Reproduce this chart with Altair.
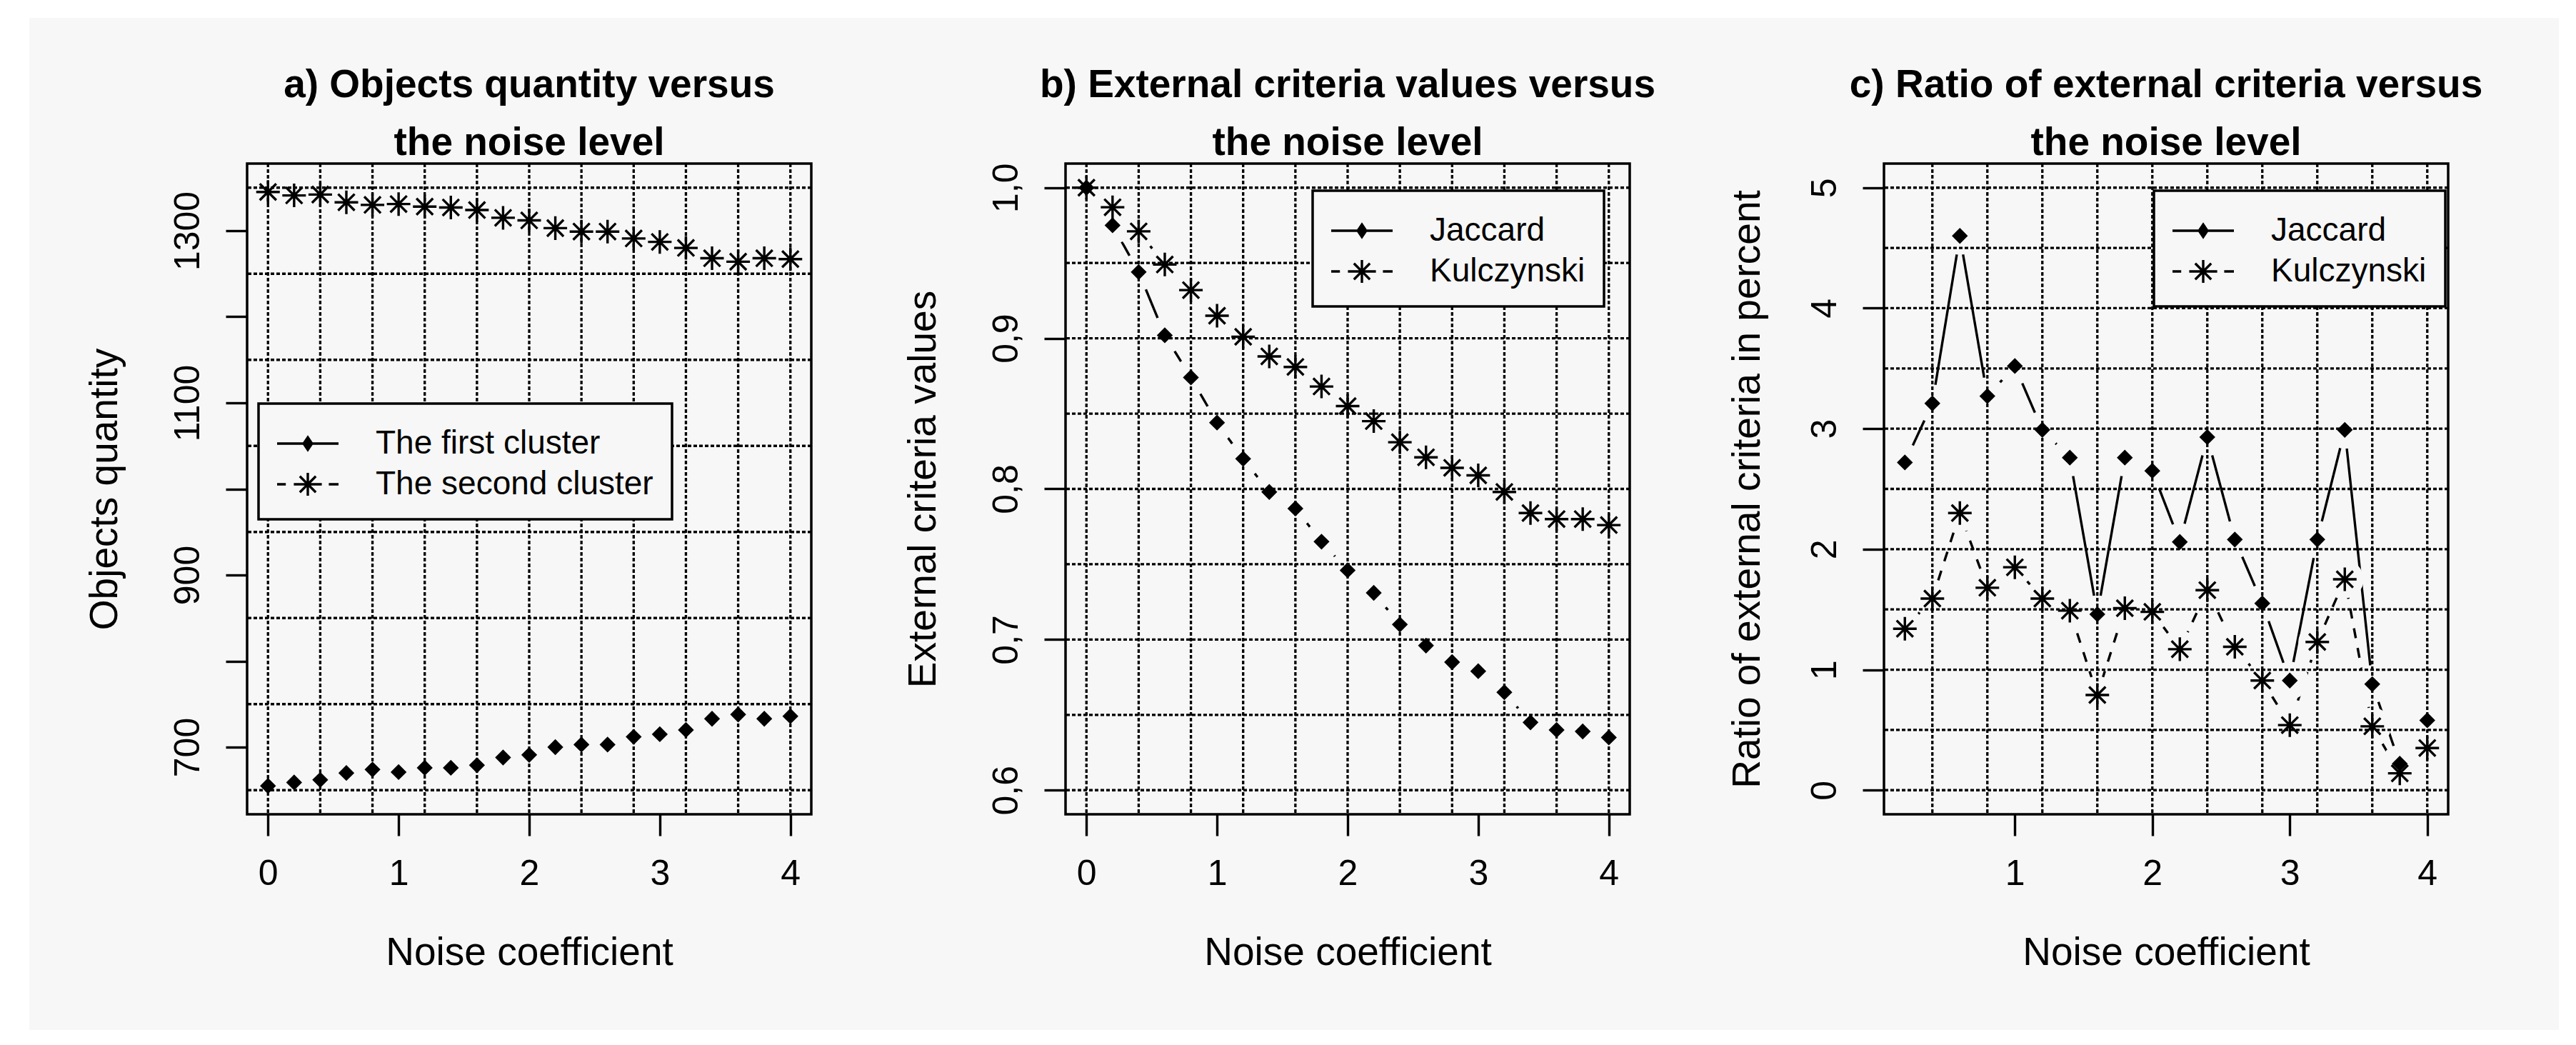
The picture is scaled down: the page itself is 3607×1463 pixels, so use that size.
import altair as alt
import pandas as pd

# ---------------- data ----------------
noise = [0.0, 0.2, 0.4, 0.6, 0.8, 1.0, 1.2, 1.4, 1.6, 1.8, 2.0,
         2.2, 2.4, 2.6, 2.8, 3.0, 3.2, 3.4, 3.6, 3.8, 4.0]

first_cluster = [655, 659, 662, 670, 674, 671, 676, 676, 679, 688, 691,
                 700, 703, 703, 712, 715, 720, 733, 738, 733, 736]
second_cluster = [1345, 1341, 1342, 1333, 1330, 1331, 1328, 1327, 1324, 1315, 1312,
                  1303, 1299, 1299, 1291, 1287, 1280, 1268, 1264, 1268, 1267]

jaccard_values = [1.000, 0.975, 0.944, 0.902, 0.874, 0.844, 0.820, 0.798, 0.787, 0.765, 0.746,
                  0.731, 0.710, 0.696, 0.685, 0.679, 0.665, 0.645, 0.640, 0.639, 0.635]
kulczynski_values = [1.000, 0.987, 0.971, 0.949, 0.932, 0.915, 0.901, 0.888, 0.881, 0.868, 0.855,
                     0.845, 0.831, 0.821, 0.814, 0.809, 0.798, 0.784, 0.780, 0.780, 0.776]

ratio_noise = [0.2, 0.4, 0.6, 0.8, 1.0, 1.2, 1.4, 1.6, 1.8, 2.0,
               2.2, 2.4, 2.6, 2.8, 3.0, 3.2, 3.4, 3.6, 3.8, 4.0]
jaccard_ratio = [2.72, 3.21, 4.60, 3.27, 3.52, 2.99, 2.76, 1.46, 2.76, 2.65,
                 2.06, 2.93, 2.08, 1.55, 0.91, 2.08, 2.99, 0.88, 0.22, 0.58]
kulczynski_ratio = [1.34, 1.59, 2.30, 1.68, 1.85, 1.59, 1.49, 0.79, 1.51, 1.48,
                    1.17, 1.66, 1.19, 0.91, 0.54, 1.23, 1.75, 0.53, 0.14, 0.35]

# tick and grid values
x_ticks_ab = [0, 1, 2, 3, 4]
x_ticks_c = [1, 2, 3, 4]
x_grid_ab = [0.0, 0.4, 0.8, 1.2, 1.6, 2.0, 2.4, 2.8, 3.2, 3.6, 4.0]
x_grid_c = [0.4, 0.8, 1.2, 1.6, 2.0, 2.4, 2.8, 3.2, 3.6, 4.0]
y_ticks_a = [700, 800, 900, 1000, 1100, 1200, 1300]
y_grid_a = [650, 750, 850, 950, 1050, 1150, 1250, 1350]
y_ticks_b = [0.6, 0.7, 0.8, 0.9, 1.0]
y_grid_b = [0.60, 0.65, 0.70, 0.75, 0.80, 0.85, 0.90, 0.95, 1.00]
y_ticks_c = [0, 1, 2, 3, 4, 5]
y_grid_c = [0, 0.5, 1, 1.5, 2, 2.5, 3, 3.5, 4, 4.5, 5]

# ---------------- styling ----------------
FONT = "Liberation Sans"
BG = "#f7f7f7"
W, H = 790, 911
LW = 3.4

ASTER = "M-1,0L1,0M0,-1L0,1M-0.7,-0.7L0.7,0.7M-0.7,0.7L0.7,-0.7"
# legend glyphs (line sample + marker), drawn at 28 px per unit
LEG_SOLID = ("M-1.536,0L1.536,0"
             "M0,-0.31L0.21,0L0,0.31L-0.21,0Z"
             "M0,-0.16L0.1,0L0,0.16L-0.1,0ZM0,-0.3L0,0.3")
LEG_DASHED = ("M-1.536,0L-1.1,0M-0.7,0L0.7,0M1.05,0L1.536,0"
              "M0,-0.57L0,0.57M-0.4,-0.4L0.4,0.4M-0.4,0.4L0.4,-0.4")


def long_df(xs, n1, v1, n2, v2):
    rows = [{"noise": x, "value": v, "series": n1} for x, v in zip(xs, v1)]
    rows += [{"noise": x, "value": v, "series": n2} for x, v in zip(xs, v2)]
    return pd.DataFrame(rows)


def panel(df, names, xdom, ydom, xticks, yticks, xgrid, ygrid, title_lines,
          ytitle, ytitle_x, yformat, ylabel_expr, leg_x, leg_y, dashes,
          draw_lines, right_ext):
    xaxis = alt.Axis(values=xticks, format="d", title="Noise coefficient",
                     titleFont=FONT, titleFontSize=55, titleFontWeight="normal",
                     titleColor="black", titleX=W / 2, titleY=193,
                     titleAlign="center", titleBaseline="middle",
                     labelFont=FONT, labelFontSize=50, labelColor="black",
                     labelPadding=28, labelFlush=False, labelOverlap=False,
                     tickSize=30, tickWidth=LW, tickColor="black",
                     domain=False, grid=False, zindex=2)
    yaxis_kw = dict(values=yticks, title=ytitle,
                    titleFont=FONT, titleFontSize=55, titleFontWeight="normal",
                    titleColor="black", titleX=ytitle_x, titleY=H / 2,
                    titleAngle=270, titleAlign="center", titleBaseline="middle",
                    labelFont=FONT, labelFontSize=50, labelColor="black",
                    labelAngle=270, labelAlign="center", labelBaseline="bottom",
                    labelPadding=28, labelFlush=False, labelOverlap=False,
                    tickSize=30, tickWidth=LW, tickColor="black",
                    domain=False, grid=False, zindex=2)
    if yformat:
        yaxis_kw["format"] = yformat
    if ylabel_expr:
        yaxis_kw["labelExpr"] = ylabel_expr
    xs = alt.X("noise:Q", scale=alt.Scale(domain=xdom, nice=False, zero=False), axis=xaxis)
    ys = alt.Y("value:Q", scale=alt.Scale(domain=ydom, nice=False, zero=False),
               axis=alt.Axis(**yaxis_kw))

    one = pd.DataFrame({"k": [0]})
    layers = []
    # panel background (grey device area)
    layers.append(alt.Chart(one).mark_rect(fill=BG).encode(
        x=alt.value(-305), x2=alt.value(W + right_ext),
        y=alt.value(-204), y2=alt.value(H + 302)))
    if draw_lines:
        layers.append(alt.Chart(df).mark_line(color="black", strokeWidth=LW).encode(
            x=xs, y=ys, detail="series:N",
            strokeDash=alt.StrokeDash("series:N", scale=alt.Scale(domain=names, range=dashes),
                                      legend=None)))
        # gaps around points (R type = "b")
        layers.append(alt.Chart(df).mark_point(shape="circle", filled=True, fill=BG,
                                               opacity=1, size=2800, strokeWidth=0).encode(
            x=xs, y=ys))
    layers.append(alt.Chart(pd.DataFrame({"noise": xgrid})).mark_rule(
        color="black", strokeWidth=3.3, strokeDash=[5, 3]).encode(x=xs))
    layers.append(alt.Chart(pd.DataFrame({"value": ygrid})).mark_rule(
        color="black", strokeWidth=3.3, strokeDash=[5, 3]).encode(y=ys))
    # first series: filled diamonds
    layers.append(alt.Chart(df).transform_filter(alt.datum.series == names[0]).mark_point(
        shape="diamond", size=380, filled=True, fill="black", stroke="black",
        strokeWidth=2, opacity=1).encode(x=xs, y=ys))
    # second series: asterisks
    layers.append(alt.Chart(df).transform_filter(alt.datum.series == names[1]).mark_point(
        shape=ASTER, size=1090, filled=False, stroke="black",
        strokeWidth=LW, opacity=1).encode(x=xs, y=ys))
    # legend (drawn from an empty layer)
    layers.append(alt.Chart(df).transform_filter("false").mark_point(
        filled=False, color="black", strokeWidth=LW, opacity=1).encode(
        x=xs, y=ys,
        shape=alt.Shape("series:N", title=None,
                        scale=alt.Scale(domain=names, range=[LEG_SOLID, LEG_DASHED]),
                        legend=alt.Legend(orient="none", legendX=leg_x, legendY=leg_y,
                                          labelFont=FONT, labelFontSize=46,
                                          labelColor="black", labelLimit=1000,
                                          labelOffset=65, symbolSize=3136,
                                          symbolOffset=13,
                                          symbolStrokeWidth=LW,
                                          symbolStrokeColor="black", symbolOpacity=1,
                                          strokeColor="black", fillColor=BG,
                                          padding=26, rowPadding=4))))
    # plot box
    layers.append(alt.Chart(one).mark_rect(filled=False, color="black", strokeWidth=3.5).encode(
        x=alt.value(0), x2=alt.value(W), y=alt.value(0), y2=alt.value(H)))

    return alt.layer(*layers).properties(
        width=W, height=H,
        title=alt.TitleParams(text=title_lines, font=FONT, fontSize=55, fontWeight="bold",
                              color="black", anchor="middle", frame="group",
                              lineHeight=81, offset=-204))


df_a = long_df(noise, "The first cluster", first_cluster, "The second cluster", second_cluster)
df_b = long_df(noise, "Jaccard", jaccard_values, "Kulczynski", kulczynski_values)
df_c = long_df(ratio_noise, "Jaccard", jaccard_ratio, "Kulczynski", kulczynski_ratio)

pa = panel(df_a, ["The first cluster", "The second cluster"], [-0.16, 4.16], [622, 1378],
           x_ticks_ab, y_ticks_a, x_grid_ab, y_grid_a,
           ["a) Objects quantity versus", "the noise level"], "Objects quantity", -200,
           "d", "datum.value % 200 == 100 ? datum.label : ''", 16, 336,
           [[1, 0], [14, 14]], False, 51)
pb = panel(df_b, ["Jaccard", "Kulczynski"], [-0.16, 4.16], [0.584, 1.016],
           x_ticks_ab, y_ticks_b, x_grid_ab, y_grid_b,
           ["b) External criteria values versus", "the noise level"], "External criteria values", -200,
           ".1f", "replace(datum.label, '.', ',')", 346, 38,
           [[1, 0], [14, 14]], True, 51)
pc = panel(df_c, ["Jaccard", "Kulczynski"], [0.048, 4.152], [-0.2, 5.2],
           x_ticks_c, y_ticks_c, x_grid_c, y_grid_c,
           ["c) Ratio of external criteria versus", "the noise level"],
           "Ratio of external criteria in percent", -192,
           "d", None, 378, 38,
           [[1, 0], [14, 14]], True, 155)

chart = alt.hconcat(pa, pb, pc, spacing=356, bounds="flush").resolve_scale(
    shape="independent").resolve_legend(shape="independent").properties(
    padding={"left": 32, "top": 16, "right": 10, "bottom": 10},
    background="white",
).configure(font=FONT).configure_view(stroke="transparent").configure_legend(strokeWidth=3.5)

chart.save("out.html", embed_options={"renderer": "svg", "actions": False})
